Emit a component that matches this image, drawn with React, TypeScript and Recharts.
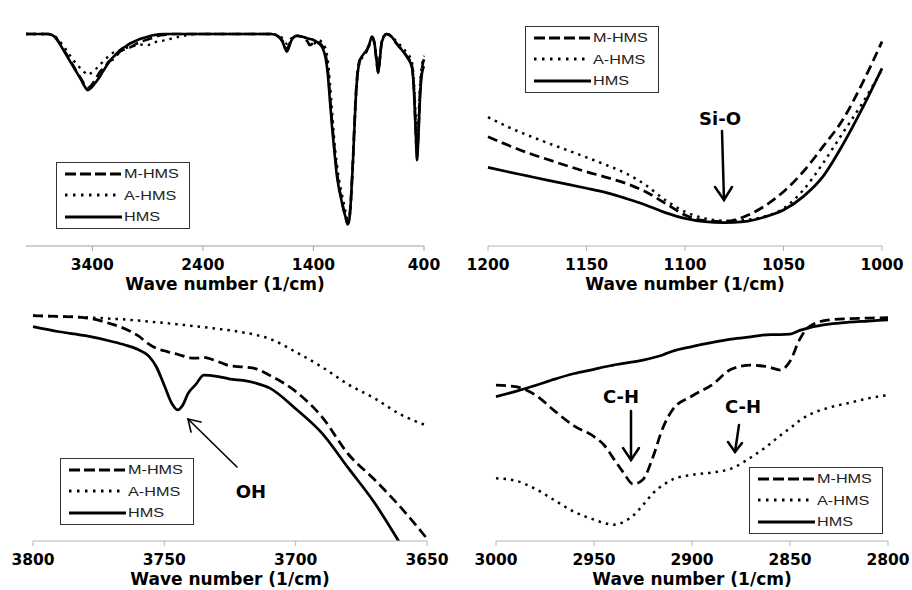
import { LineChart, Line, XAxis, YAxis, Legend } from 'recharts'

// ---- panel 1: full spectrum 4000-400 ----
const fullWn = [
  4000, 3800, 3750, 3700, 3650, 3600, 3550, 3500, 3470, 3440, 3410, 3370, 3330, 3290, 3250, 3200, 3150, 3100,
  3050, 3000, 2950, 2900, 2850, 2800, 2750, 2700, 2650, 2600, 2550, 2500, 2400, 2000, 1780, 1720, 1680, 1640,
  1600, 1550, 1500, 1460, 1430, 1400, 1360, 1320, 1290, 1270, 1250, 1230, 1210, 1190, 1170, 1150, 1130, 1110,
  1090, 1075, 1060, 1045, 1030, 1015, 1000, 980, 950, 920, 895, 870, 850, 830, 815, 800, 785, 770, 740, 700,
  650, 600, 555, 510, 490, 475, 463, 450, 435, 418, 400,
]
const fullMhms = [
  91.4, 91.4, 90.7, 87.8, 84.0, 80.0, 75.8, 72.0, 69.5, 68.2, 69.2, 72.0, 75.2, 77.0, 79.5, 80.8, 83.8, 84.8,
  85.8, 87.2, 88.2, 89.0, 89.8, 90.6, 91.0, 91.3, 91.4, 91.4, 91.4, 91.4, 91.4, 91.4, 91.4, 90.5, 88.5, 85.0,
  89.0, 90.5, 90.2, 88.5, 86.6, 87.5, 87.8, 86.2, 82.5, 76.0, 64.0, 52.5, 42.0, 33.0, 26.0, 21.0, 16.5, 12.8,
  9.6, 12.0, 21.0, 35.0, 52.0, 66.5, 75.5, 80.3, 81.5, 84.0, 86.5, 90.0, 87.5, 80.0, 74.8, 80.5, 87.2, 89.5, 91.4, 90.5,
  87.3, 84.5, 81.8, 77.8, 67.0, 50.0, 38.5, 50.0, 67.0, 76.5, 80.5,
]
const fullAhms = [
  91.4, 91.4, 90.8, 88.5, 85.5, 82.0, 78.8, 76.2, 74.8, 73.8, 74.6, 76.2, 78.2, 80.0, 82.0, 83.6, 84.2, 85.2,
  86.0, 86.4, 86.8, 86.6, 87.6, 88.2, 88.6, 89.2, 89.8, 90.3, 90.8, 91.2, 91.4, 91.4, 91.4, 90.9, 89.5, 87.2,
  89.5, 90.6, 90.4, 89.0, 86.4, 86.8, 88.8, 87.8, 85.0, 80.0, 70.0, 57.0, 45.0, 36.0, 29.0, 24.0, 19.5, 15.0,
  11.5, 12.0, 20.0, 33.0, 49.0, 64.0, 74.0, 79.5, 82.0, 83.8, 86.8, 90.0, 87.8, 81.5, 76.0, 81.0, 87.5, 90.0, 91.4, 90.8,
  88.2, 85.8, 83.2, 79.5, 70.0, 56.0, 45.0, 55.0, 70.0, 78.0, 82.0,
]
const fullHms = [
  91.4, 91.4, 90.6, 87.5, 83.5, 79.5, 75.5, 71.5, 68.8, 67.2, 68.2, 70.5, 73.2, 76.3, 79.2, 82.0, 84.4, 86.0,
  87.5, 88.6, 89.5, 90.2, 90.8, 91.2, 91.4, 91.4, 91.4, 91.4, 91.4, 91.4, 91.4, 91.4, 91.4, 90.3, 88.0, 83.8,
  88.5, 90.6, 90.2, 89.6, 89.2, 88.8, 87.6, 85.6, 81.0, 74.0, 62.0, 50.5, 40.5, 31.0, 25.0, 20.5, 16.0, 12.5,
  9.3, 11.5, 20.5, 34.0, 50.0, 65.5, 74.5, 80.0, 82.5, 84.3, 87.0, 90.3, 88.0, 80.5, 74.6, 80.0, 87.0, 89.5, 91.4, 90.5,
  87.5, 84.5, 81.5, 77.2, 66.0, 49.0, 37.0, 48.0, 65.0, 74.5, 77.5,
]
const fullTicks = [3400, 2400, 1400, 400]

// ---- panel 2: Si-O region ----
const siWn = [1200, 1190, 1180, 1170, 1160, 1150, 1140, 1130, 1120, 1110, 1100, 1090, 1080, 1070, 1060, 1050, 1040, 1030, 1020, 1010, 1000]
const siMhms = [47.1, 43.5, 40.2, 37.4, 34.6, 32.0, 29.6, 27.0, 23.4, 18.4, 13.4, 10.9, 10.5, 12.6, 17.0, 23.4, 32.0, 42.8, 54.3, 70.1, 88.1]
const siAhms = [55.5, 51.4, 47.8, 44.5, 41.4, 38.2, 34.9, 31.3, 26.3, 19.8, 14.8, 11.9, 10.9, 11.2, 12.6, 16.2, 24.1, 35.6, 48.6, 61.5, 76.0]
const siHms = [33.9, 32.0, 30.2, 28.4, 26.7, 24.9, 23.0, 20.5, 17.7, 14.4, 11.9, 10.5, 10.1, 10.5, 12.4, 15.5, 21.3, 29.9, 43.5, 59.3, 76.6]
const siTicks = [1200, 1150, 1100, 1050, 1000]

// ---- panel 3: OH region ----
const ohWn = [3800, 3790, 3780, 3770, 3765, 3760, 3756, 3753, 3750, 3747, 3745, 3743, 3741, 3738, 3735, 3730, 3725, 3720, 3715, 3710, 3700, 3690, 3680, 3670, 3660, 3650]
const ohMhms = [97.1, 96.8, 96.2, 93.5, 91.5, 88.5, 85.0, 83.0, 82.0, 81.0, 80.5, 79.8, 79.0, 78.8, 79.2, 77.5, 75.5, 75.0, 74.2, 71.5, 64.5, 53.5, 37.5, 26.5, 14.5, 1.0]
const ohAhms = [97.1, 96.8, 96.4, 95.8, 95.5, 95.0, 94.6, 94.3, 94.0, 93.6, 93.4, 93.2, 92.9, 92.5, 92.2, 91.5, 90.8, 89.9, 88.8, 87.2, 81.5, 75.0, 67.5, 61.5, 54.5, 49.7]
const ohHms = [92.4, 90.2, 88.5, 86.0, 84.5, 82.5, 79.8, 75.0, 67.0, 59.0, 56.5, 58.5, 63.5, 67.5, 71.5, 71.0, 69.8, 69.2, 68.0, 66.0, 57.0, 46.5, 31.5, 16.5, -1.5, -20.0]
const ohTicks = [3800, 3750, 3700, 3650]

// ---- panel 4: C-H region ----
const chWn = [3000, 2990, 2980, 2970, 2960, 2950, 2945, 2940, 2935, 2930, 2925, 2920, 2915, 2910, 2900, 2890, 2880, 2870, 2860, 2855, 2850, 2845, 2840, 2830, 2820, 2810, 2800]
const chMhms = [67.2, 66.5, 63.0, 56.0, 49.5, 45.0, 41.5, 35.5, 29.5, 24.5, 26.5, 36.0, 48.5, 56.5, 62.5, 67.2, 74.0, 75.8, 74.8, 73.7, 77.5, 87.0, 92.5, 95.3, 95.8, 96.1, 96.3]
const chAhms = [27.0, 26.0, 22.5, 17.5, 12.5, 9.2, 7.8, 7.0, 8.2, 11.0, 15.5, 20.5, 24.0, 26.5, 28.5, 29.5, 31.2, 36.0, 42.0, 45.5, 48.6, 52.0, 54.5, 57.5, 59.5, 61.5, 62.9]
const chHms = [62.2, 64.5, 67.0, 69.8, 72.2, 74.0, 75.0, 75.8, 76.6, 77.2, 78.0, 79.0, 80.2, 81.8, 83.8, 85.5, 87.0, 88.0, 89.0, 89.0, 89.2, 90.8, 92.0, 93.5, 94.3, 94.8, 95.3]
const chTicks = [3000, 2950, 2900, 2850, 2800]

const series = [
  { key: 'mhms', name: 'M-HMS', dash: '10 5', legendDash: '11 4', legendLen: 57, width: 2.75 },
  { key: 'ahms', name: 'A-HMS', dash: '2.5 5', legendDash: '2.5 5.5', legendLen: 51, width: 2.5 },
  { key: 'hms', name: 'HMS', dash: undefined, legendDash: undefined, legendLen: 57, width: 2.75 },
]

const rows = (wn: number[], m: number[], a: number[], h: number[]) =>
  wn.map((w, i) => ({ wn: w, mhms: m[i], ahms: a[i], hms: h[i] }))

function LegendBox() {
  return (
    <div
      style={{
        border: '1px solid #333',
        background: '#fff',
        width: 134,
        padding: '0 0 0 8px',
        boxSizing: 'border-box',
      }}
    >
      {series.map((s) => (
        <div key={s.key} style={{ display: 'flex', alignItems: 'center', height: 21.5 }}>
          <svg width={57} height={8}>
            <line x1={0} x2={s.legendLen} y1={4} y2={4} stroke="#000" strokeWidth={3} strokeDasharray={s.legendDash} />
          </svg>
          <span
            style={{
              fontFamily: '"Liberation Sans", Arial, sans-serif',
              fontSize: 13.5,
              color: '#222',
              display: 'inline-block',
              transform: 'scaleX(1.2)',
              transformOrigin: 'left center',
              marginLeft: 2,
            }}
          >
            {s.name}
          </span>
        </div>
      ))}
    </div>
  )
}

interface PanelProps {
  left: number
  top: number
  data: { wn: number; mhms: number; ahms: number; hms: number }[]
  domain: [number, number]
  ticks: number[]
  margin: { top: number; right: number; bottom: number; left: number }
  legendPos: { left: number; top: number }
  vStroke: string
  hStroke: string
  lineScale?: number
}

function Panel({ left, top, data, domain, ticks, margin, legendPos, vStroke, hStroke, lineScale = 1 }: PanelProps) {
  return (
    <div style={{ position: 'absolute', left, top }}>
      <LineChart width={456} height={295} data={data} margin={margin}>
        <XAxis
          xAxisId="t"
          orientation="top"
          dataKey="wn"
          type="number"
          domain={domain}
          reversed
          height={0}
          tick={false}
          tickLine={false}
          axisLine={{ stroke: '#9a9a9a' }}
        />
        <XAxis
          xAxisId="b"
          dataKey="wn"
          type="number"
          domain={domain}
          reversed
          ticks={ticks}
          height={45}
          tickSize={5}
          tickMargin={8}
          axisLine={{ stroke: hStroke }}
          tickLine={{ stroke: hStroke }}
          tick={{ fontSize: 15.5, fontWeight: 700, fill: '#000', fontFamily: '"DejaVu Sans", sans-serif' }}
          label={{
            value: 'Wave number (1/cm)',
            position: 'insideBottom',
            offset: 1,
            style: { fontSize: 17, fontWeight: 700, fill: '#000', fontFamily: '"DejaVu Sans", sans-serif' },
          }}
        />
        <YAxis yAxisId="l" domain={[0, 100]} allowDataOverflow width={0} tick={false} tickLine={false} axisLine={{ stroke: vStroke }} />
        <YAxis yAxisId="r" orientation="right" domain={[0, 100]} width={0} tick={false} tickLine={false} axisLine={{ stroke: vStroke }} />
        <Legend
          layout="vertical"
          align="center"
          verticalAlign="middle"
          content={() => <LegendBox />}
          wrapperStyle={{ left: legendPos.left, top: legendPos.top, width: 'auto', height: 'auto' }}
        />
        {series.map((s) => (
          <Line
            key={s.key}
            xAxisId="b"
            yAxisId="l"
            type="monotone"
            dataKey={s.key}
            name={s.name}
            stroke="#000"
            strokeWidth={s.width * lineScale}
            strokeDasharray={s.dash}
            dot={false}
            isAnimationActive={false}
          />
        ))}
      </LineChart>
    </div>
  )
}

const bold = { fontFamily: '"DejaVu Sans", sans-serif', fontWeight: 700, fontSize: 18, fill: '#000' }

export default function App() {
  return (
    <div style={{ position: 'absolute', left: 0, top: 0, width: 912, height: 590, background: '#fff', overflow: 'hidden' }}>
      <Panel
        left={0}
        top={0}
        data={rows(fullWn, fullMhms, fullAhms, fullHms)}
        domain={[400, 4000]}
        ticks={fullTicks}
        margin={{ top: 14, right: 32, bottom: 4, left: 26 }}
        legendPos={{ left: 56, top: 162 }}
        vStroke="#a0a0a0"
        hStroke="#a0a0a0"
        lineScale={0.95}
      />
      <Panel
        left={456}
        top={0}
        data={rows(siWn, siMhms, siAhms, siHms)}
        domain={[1000, 1200]}
        ticks={siTicks}
        margin={{ top: 14, right: 30, bottom: 4, left: 32 }}
        legendPos={{ left: 69, top: 26 }}
        vStroke="#222"
        hStroke="#b5b5b5"
      />
      <Panel
        left={0}
        top={295}
        data={rows(ohWn, ohMhms, ohAhms, ohHms)}
        domain={[3650, 3800]}
        ticks={ohTicks}
        margin={{ top: 14, right: 29, bottom: 4, left: 33 }}
        legendPos={{ left: 60, top: 163 }}
        vStroke="#333"
        hStroke="#b5b5b5"
      />
      <Panel
        left={456}
        top={295}
        data={rows(chWn, chMhms, chAhms, chHms)}
        domain={[2800, 3000]}
        ticks={chTicks}
        margin={{ top: 14, right: 24, bottom: 4, left: 40 }}
        legendPos={{ left: 293, top: 172 }}
        vStroke="#333"
        hStroke="#b5b5b5"
      />
      <svg width={912} height={590} style={{ position: 'absolute', left: 0, top: 0, pointerEvents: 'none' }}>
        <g stroke="#000" strokeWidth={2.5} fill="none" strokeLinecap="round">
          <line x1={722} y1={131} x2={724} y2={200} />
          <polyline points="715,187 724,200 732,187" />
          <line x1={631} y1={411} x2={631} y2={460} />
          <polyline points="623,448 631,460 639,448" />
          <line x1={739} y1={425} x2={735} y2={452} />
          <polyline points="728,442 735,452 742,443" />
        </g>
        <g stroke="#000" strokeWidth={1.6} fill="none" strokeLinecap="round">
          <line x1={237} y1={467} x2={188} y2={419} />
          <polyline points="191,432 188,419 201,422" />
        </g>
        <text x={720} y={125} textAnchor="middle" {...bold}>Si-O</text>
        <text x={251} y={498} textAnchor="middle" {...bold}>OH</text>
        <text x={621} y={403} textAnchor="middle" {...bold}>C-H</text>
        <text x={743} y={413} textAnchor="middle" {...bold}>C-H</text>
      </svg>
    </div>
  )
}
